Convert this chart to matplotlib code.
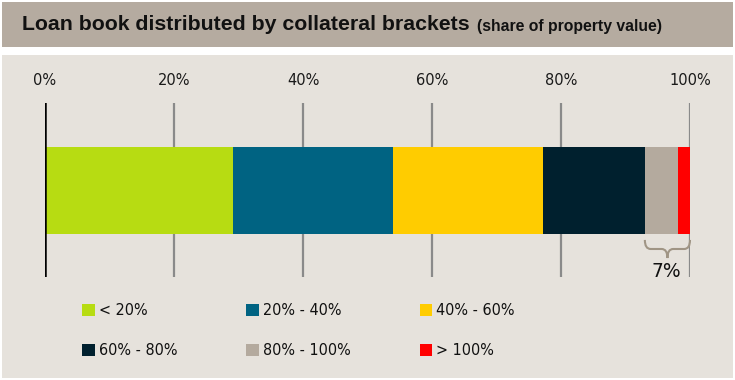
import matplotlib
matplotlib.use("Agg")
import numpy as np
import matplotlib.pyplot as plt
from matplotlib.patches import Rectangle, PathPatch
from matplotlib.path import Path

# --- data (share of loan book, %) ---
brackets = ["< 20%", "20% - 40%", "40% - 60%", "60% - 80%", "80% - 100%", "> 100%"]
shares = [29.1, 24.9, 23.2, 15.8, 5.1, 1.9]
colors = ["#b7dc12", "#006382", "#ffcc00", "#00202e", "#b4aa9e", "#ff0000"]
tick_vals = [0, 20, 40, 60, 80, 100]
tick_labels = ["0%", "20%", "40%", "60%", "80%", "100%"]
brace_label = "7%"

W, H = 735, 380
fig = plt.figure(figsize=(W / 100, H / 100), dpi=100)
fig.patch.set_facecolor("white")

def fx(px):
    return px / W

def fy(py):
    return 1 - py / H

# banner and panel backgrounds
fig.patches.append(Rectangle((fx(2), fy(47)), fx(731), 45 / H, transform=fig.transFigure,
                             facecolor="#b5aba0", edgecolor="none", zorder=-5))
fig.patches.append(Rectangle((fx(2), fy(378)), fx(731), 323 / H, transform=fig.transFigure,
                             facecolor="#e6e2dc", edgecolor="none", zorder=-5))

# title
fig.text(fx(22), fy(25), "Loan book distributed by collateral brackets", fontsize=15.3,
         fontweight="bold", family="Liberation Sans", va="center", ha="left", color="#111111")
fig.text(fx(477), fy(26), "(share of property value)", fontsize=11.3,
         fontweight="bold", family="Liberation Sans", va="center", ha="left", color="#111111")

# main axes: 0..100 spanning x 45..690 px, y 103..277 px
ax = fig.add_axes([fx(45), fy(277), 645 / W, 174 / H])
ax.set_facecolor("none")
ax.set_xlim(0, 100)
ax.set_ylim(0, 1)

left = 0
handles = []
for name, val, col in zip(brackets, shares, colors):
    b = ax.barh(0.497, val, left=left, height=0.5, color=col, label=name, zorder=2)
    handles.append(b)
    left += val

for v in tick_vals[1:]:
    ax.axvline(v, color="#8a8a8a", lw=1.6, zorder=1)
ax.axvline(0, color="black", lw=1.8, zorder=3)

ax.xaxis.tick_top()
ax.set_xticks(tick_vals)
ax.set_xticklabels(tick_labels, fontsize=10.5, color="#1a1a1a")
ax.tick_params(axis="x", length=0, pad=11)
ax.set_yticks([])
for s in ax.spines.values():
    s.set_visible(False)

# curly brace under the last two segments
x0 = sum(shares[:4])
x1 = 100
xc = (x0 + x1) / 2
yt, ym, yb = 0.213, 0.161, 0.109
dx = 0.9
verts = [(x0, yt), (x0, ym), (x0 + dx, ym),
         (xc - dx, ym), (xc, ym), (xc, yb),
         (xc, ym), (xc + dx, ym),
         (x1 - dx, ym), (x1, ym), (x1, yt)]
codes = [Path.MOVETO, Path.CURVE3, Path.CURVE3,
         Path.LINETO, Path.CURVE3, Path.CURVE3,
         Path.CURVE3, Path.CURVE3,
         Path.LINETO, Path.CURVE3, Path.CURVE3]
ax.add_patch(PathPatch(Path(verts, codes), facecolor="none", edgecolor="#a09585",
                       lw=1.5, zorder=2, clip_on=False))
ax.text(xc - 0.2, 0.03, brace_label, ha="center", va="center", fontsize=13.5,
        color="#111111", clip_on=False)

# legend, filled row by row (legend fills column-first)
order = [0, 3, 1, 4, 2, 5]
leg = fig.legend(handles=[handles[i] for i in order], labels=[brackets[i] for i in order],
                 ncol=3, loc="upper left",
                 bbox_to_anchor=(fx(76), fy(297)), frameon=False,
                 prop={"family": "DejaVu Sans", "stretch": "condensed", "size": 11.5},
                 handlelength=0.8, handleheight=0.8, handletextpad=0.25,
                 columnspacing=4.3, labelspacing=1.56, borderaxespad=0)
for t in leg.get_texts():
    t.set_color("#111111")

fig.savefig("out.png", dpi=100, facecolor=fig.get_facecolor())
